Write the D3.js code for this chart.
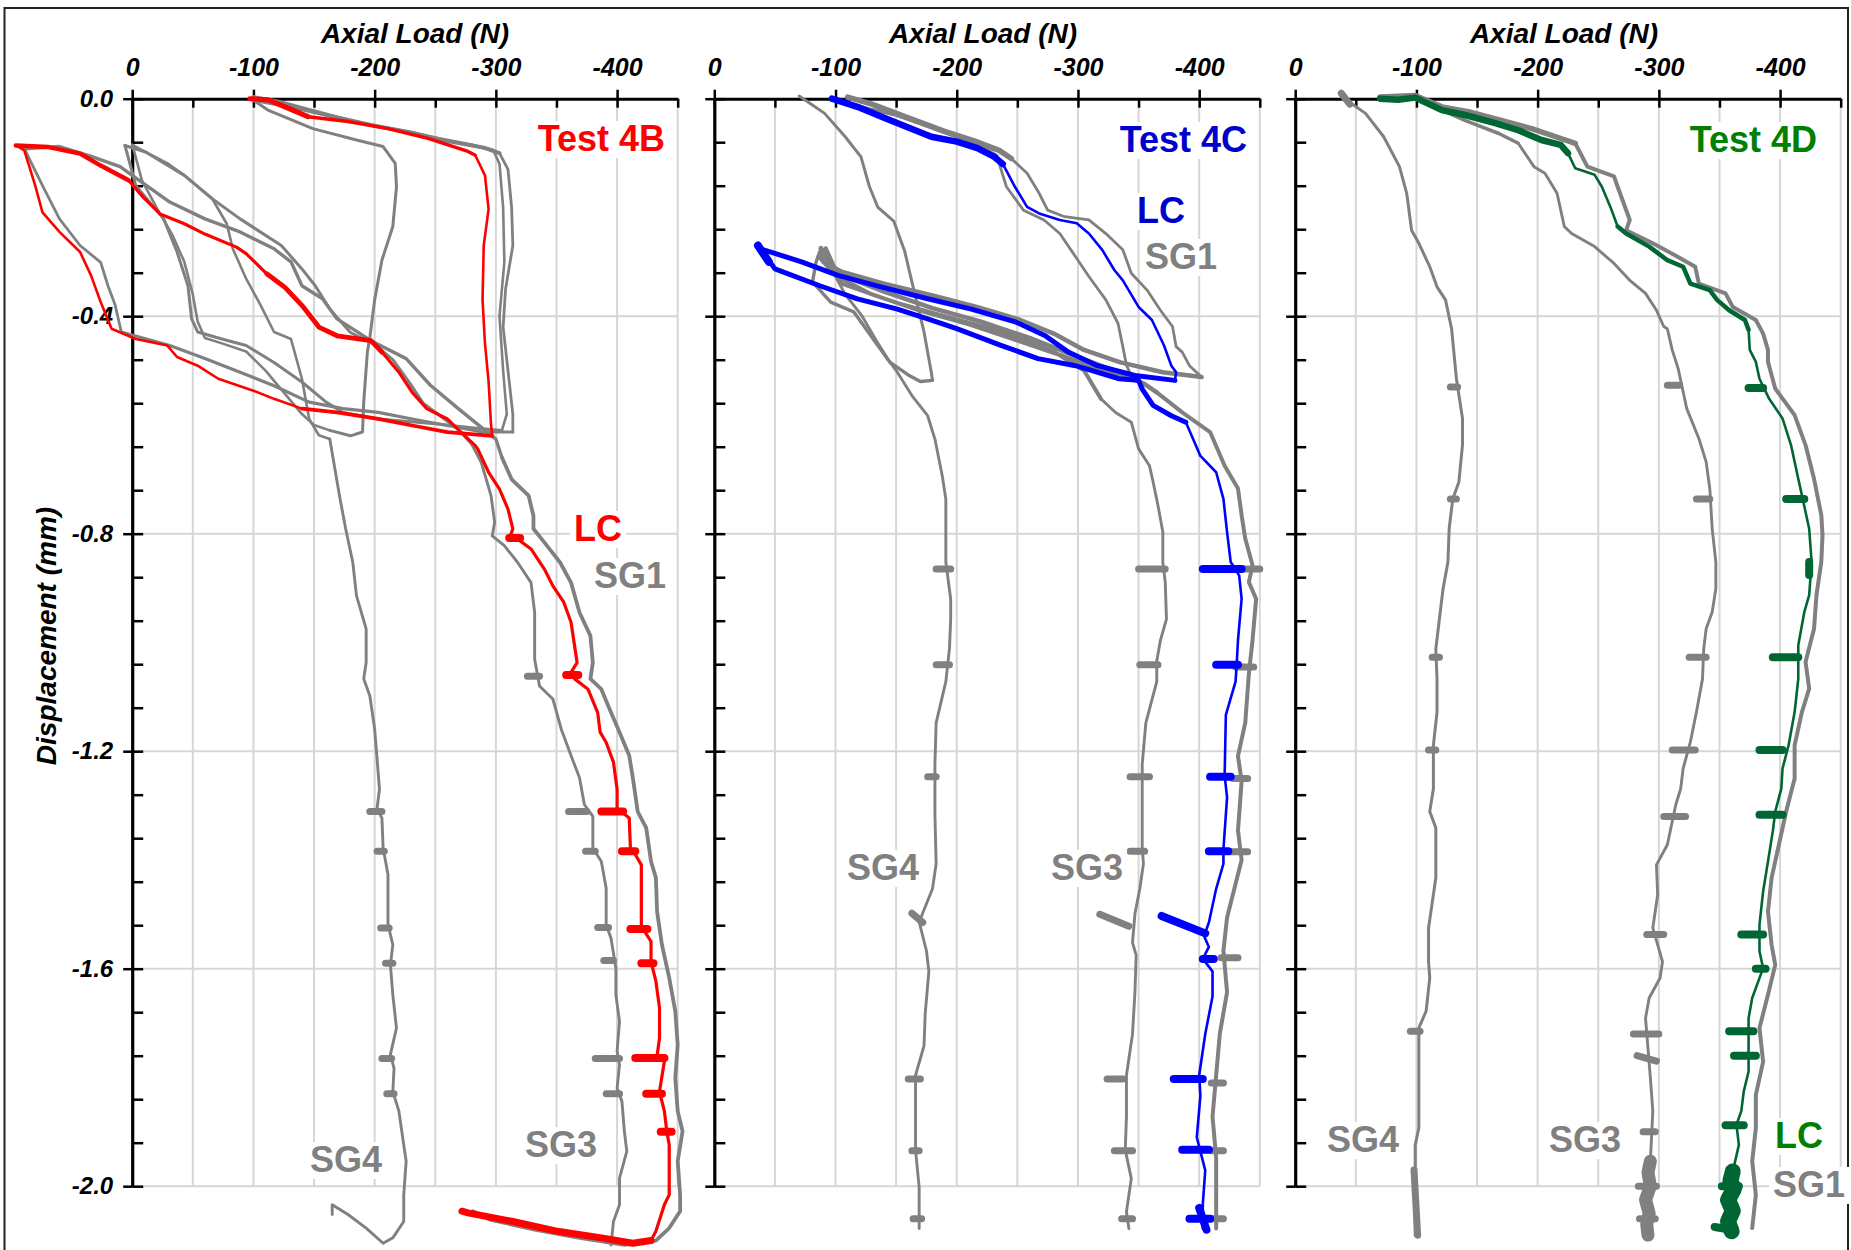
<!DOCTYPE html>
<html><head><meta charset="utf-8">
<script src="https://cdn.jsdelivr.net/npm/d3@7"></script>
<style>
body{margin:0;background:#fff;}
svg{display:block;font-family:"Liberation Sans",Arial,sans-serif;}
</style></head><body>
<svg id="chart" width="1851" height="1250"></svg>
<script>
// ---------------- DATA (Axial load N, Displacement mm) ----------------
const loadTicks = [0,-50,-100,-150,-200,-250,-300,-350,-400,-450];
const loadLabels = [0,-100,-200,-300,-400];
const dispTicks = d3.range(26).map(i => -(i*8)/100);
const dispLabels = [0,-0.4,-0.8,-1.2,-1.6,-2.0];
const panelTests = ["Test 4B","Test 4C","Test 4D"];
const seriesNames = ["LC","SG1","SG3","SG4"];

// ---- Test 4B ----
const p1_LC = [
 [[-97,0],[-112,-0.002],[-126,-0.015],[-145,-0.033]],
 [[-145,-0.033],[-178,-0.042],[-211,-0.055],[-244,-0.073],[-277,-0.097],[-283,-0.104]],
 [[-283,-0.104],[-291,-0.141],[-294,-0.203],[-290,-0.27],[-289,-0.37],[-291,-0.45],[-294,-0.52],[-296,-0.6],[-297,-0.62]],
 [[-297,-0.62],[-260,-0.613],[-231,-0.601],[-203,-0.589],[-169,-0.577],[-140,-0.57]],
 [[-140,-0.57],[-117,-0.552],[-100,-0.537],[-71,-0.515],[-54,-0.491],[-37,-0.475],[-29,-0.454],[-3,-0.442],[17,-0.423],[26,-0.374],[34,-0.325],[43,-0.282],[60,-0.245],[74,-0.209],[80,-0.16],[89,-0.095],[96,-0.086]],
 [[96,-0.086],[69,-0.089],[43,-0.101],[26,-0.123],[3,-0.15]],
 [[3,-0.15],[-9,-0.181],[-23,-0.212],[-43,-0.23],[-60,-0.249],[-86,-0.273],[-94,-0.285],[-111,-0.322]],
 [[-111,-0.322],[-126,-0.347],[-140,-0.38],[-154,-0.42],[-169,-0.436],[-197,-0.445],[-206,-0.466]],
 [[-206,-0.466],[-220,-0.503],[-231,-0.54],[-243,-0.57],[-260,-0.589],[-271,-0.613],[-283,-0.638],[-285,-0.644],[-294,-0.687],[-303,-0.718],[-310,-0.755],[-314,-0.791],[-312,-0.804],[-318,-0.81],[-329,-0.828],[-340,-0.865],[-347,-0.896],[-356,-0.926],[-362,-0.963],[-367,-1.037],[-362,-1.055],[-365,-1.067],[-376,-1.086],[-384,-1.129],[-386,-1.165],[-391,-1.184],[-397,-1.22],[-400,-1.27],[-400,-1.305],[-410,-1.323],[-411,-1.378],[-415,-1.39],[-420,-1.409],[-420,-1.522],[-428,-1.55],[-428,-1.587],[-432,-1.623],[-435,-1.672],[-435,-1.728],[-433,-1.76],[-439,-1.77],[-435,-1.826],[-439,-1.862],[-441,-1.899],[-443,-1.924],[-443,-2.016],[-439,-2.034],[-432,-2.083],[-428,-2.1]],
 [[-428,-2.1],[-413,-2.105],[-387,-2.095],[-351,-2.083],[-314,-2.065],[-277,-2.049],[-272,-2.046]]
];
const p1_LC_holds = [[[-387,-1.311],[-405,-1.311]],[[-404,-1.384],[-415,-1.384]],[[-411,-1.527],[-425,-1.527]],[[-420,-1.59],[-430,-1.59]],[[-415,-1.764],[-439,-1.764]],[[-424,-1.83],[-437,-1.83]],[[-436,-1.9],[-445,-1.9]],[[-358,-1.06],[-368,-1.06]],[[-311,-0.808],[-320,-0.808]]];
const p1_SG1 = [
 [[-100,0.003],[-120,-0.005],[-145,-0.02],[-170,-0.035],[-200,-0.05],[-230,-0.062],[-260,-0.078],[-290,-0.09],[-303,-0.1]],
 [[-303,-0.1],[-310,-0.13],[-313,-0.2],[-314,-0.27],[-308,-0.35],[-306,-0.42],[-310,-0.5],[-314,-0.58],[-314,-0.613]],
 [[-314,-0.613],[-289,-0.613],[-260,-0.601],[-231,-0.589],[-203,-0.577],[-174,-0.57],[-146,-0.558],[-117,-0.528],[-89,-0.503],[-60,-0.478],[-31,-0.454],[9,-0.429]],
 [[9,-0.429],[14,-0.38],[20,-0.344],[26,-0.301],[43,-0.27],[60,-0.221],[74,-0.16],[89,-0.092]],
 [[89,-0.092],[60,-0.088],[35,-0.105],[10,-0.125],[0,-0.141],[-31,-0.19],[-60,-0.221],[-89,-0.245],[-117,-0.276],[-131,-0.3],[-140,-0.344],[-157,-0.368],[-169,-0.405],[-197,-0.445],[-226,-0.478],[-246,-0.527],[-269,-0.57],[-300,-0.626],[-305,-0.66]],
 [[-305,-0.66],[-313,-0.7],[-327,-0.73],[-331,-0.767],[-331,-0.791],[-340,-0.816],[-353,-0.853],[-362,-0.89],[-369,-0.945],[-378,-0.988],[-380,-1.037],[-378,-1.067],[-387,-1.086],[-395,-1.129],[-402,-1.165],[-410,-1.208],[-413,-1.249],[-417,-1.311],[-424,-1.341],[-428,-1.403],[-432,-1.433],[-433,-1.495],[-437,-1.556],[-443,-1.617],[-448,-1.678],[-450,-1.74],[-448,-1.801],[-450,-1.862],[-454,-1.899],[-450,-1.954],[-452,-2.016],[-452,-2.046],[-443,-2.077],[-432,-2.1],[-406,-2.108],[-369,-2.095],[-332,-2.08],[-296,-2.062],[-281,-2.046]]
];
const p1_SG1_holds = [];
const p1_SG3 = [
 [[-105,-0.005],[-130,-0.015],[-160,-0.03],[-190,-0.045],[-220,-0.058],[-250,-0.072],[-280,-0.085],[-298,-0.095]],
 [[-298,-0.095],[-303,-0.12],[-306,-0.2],[-307,-0.3],[-303,-0.4],[-306,-0.5],[-309,-0.58],[-305,-0.61]],
 [[-305,-0.61],[-280,-0.605],[-250,-0.598],[-203,-0.589],[-174,-0.577],[-160,-0.558],[-140,-0.521],[-117,-0.485],[-94,-0.454],[-74,-0.442],[-54,-0.429],[-49,-0.405],[-46,-0.344],[-37,-0.282],[-26,-0.221],[-3,-0.16],[6,-0.086]],
 [[6,-0.086],[-11,-0.098],[-43,-0.141],[-66,-0.184],[-89,-0.221],[-123,-0.27],[-140,-0.313],[-151,-0.344],[-163,-0.387],[-180,-0.43],[-200,-0.452],[-215,-0.48],[-228,-0.52],[-240,-0.56],[-255,-0.585],[-270,-0.61],[-280,-0.635]],
 [[-280,-0.635],[-288,-0.669],[-296,-0.73],[-299,-0.779],[-297,-0.804],[-307,-0.822],[-318,-0.853],[-329,-0.89],[-332,-0.945],[-332,-1.031],[-336,-1.08],[-347,-1.104],[-354,-1.16],[-362,-1.208],[-369,-1.249],[-373,-1.298],[-380,-1.32],[-380,-1.378],[-387,-1.403],[-391,-1.452],[-391,-1.519],[-395,-1.544],[-399,-1.599],[-399,-1.648],[-402,-1.697],[-400,-1.752],[-402,-1.777],[-400,-1.82],[-404,-1.844],[-406,-1.899],[-408,-1.936],[-402,-1.985],[-402,-2.034],[-397,-2.065],[-395,-2.108]]
];
const p1_SG3_holds = [[[-360,-1.311],[-375,-1.311]],[[-374,-1.384],[-382,-1.384]],[[-384,-1.524],[-393,-1.524]],[[-389,-1.585],[-397,-1.585]],[[-382,-1.765],[-402,-1.765]],[[-391,-1.83],[-402,-1.83]],[[-326,-1.062],[-336,-1.062]]];
const p1_SG4 = [
 [[-100,-0.003],[-112,-0.021],[-149,-0.055],[-185,-0.076],[-207,-0.088],[-217,-0.119],[-218,-0.162],[-215,-0.235],[-206,-0.297],[-200,-0.37],[-196,-0.44],[-194,-0.466],[-191,-0.558],[-190,-0.613],[-180,-0.62],[-163,-0.61]],
 [[-163,-0.61],[-150,-0.6],[-140,-0.58],[-125,-0.54],[-110,-0.5],[-94,-0.465],[-74,-0.45],[-60,-0.44],[-54,-0.41],[-50,-0.36],[-43,-0.3],[-33,-0.25],[-20,-0.2],[-8,-0.15],[-2,-0.1],[0,-0.085]],
 [[0,-0.085],[-11,-0.098],[-30,-0.12],[-43,-0.141],[-66,-0.184],[-78,-0.23],[-83,-0.276],[-94,-0.331],[-106,-0.38],[-117,-0.429],[-131,-0.442],[-140,-0.515],[-146,-0.589],[-154,-0.619],[-163,-0.626]],
 [[-163,-0.626],[-171,-0.73],[-176,-0.79],[-182,-0.853],[-185,-0.914],[-193,-0.975],[-193,-1.037],[-191,-1.067],[-196,-1.098],[-200,-1.159],[-204,-1.27],[-202,-1.305],[-206,-1.323],[-207,-1.378],[-211,-1.427],[-211,-1.519],[-215,-1.556],[-213,-1.593],[-215,-1.648],[-218,-1.709],[-213,-1.758],[-216,-1.783],[-215,-1.826],[-220,-1.862],[-224,-1.924],[-226,-1.954],[-224,-2.016],[-224,-2.065],[-215,-2.095],[-207,-2.105],[-193,-2.077],[-178,-2.052],[-165,-2.034],[-165,-2.052]]
];
const p1_SG4_holds = [[[-196,-1.311],[-206,-1.311]],[[-202,-1.384],[-208,-1.384]],[[-205,-1.525],[-212,-1.525]],[[-209,-1.59],[-215,-1.59]],[[-206,-1.765],[-214,-1.765]],[[-210,-1.83],[-216,-1.83]]];

// ---- Test 4C ----
const p2_LC = [
 [[-97,0],[-118,-0.015],[-138,-0.033],[-159,-0.052],[-179,-0.07],[-200,-0.079],[-217,-0.091],[-231,-0.107],[-238,-0.12]],
 [[-238,-0.12],[-248,-0.162],[-258,-0.199],[-268,-0.211],[-285,-0.223],[-299,-0.229],[-309,-0.248],[-320,-0.278],[-330,-0.315],[-337,-0.334],[-350,-0.383],[-361,-0.407],[-371,-0.454],[-377,-0.491],[-381,-0.503],[-380,-0.518]],
 [[-380,-0.518],[-347,-0.509],[-316,-0.491],[-292,-0.466],[-273,-0.436],[-249,-0.411],[-212,-0.387],[-176,-0.368],[-139,-0.347],[-102,-0.325],[-72,-0.3],[-38,-0.276]],
 [[-38,-0.276],[-50,-0.313],[-87,-0.344],[-118,-0.368],[-151,-0.387],[-176,-0.405],[-200,-0.423],[-237,-0.454],[-267,-0.478],[-298,-0.491],[-334,-0.515],[-350,-0.518],[-353,-0.534],[-362,-0.564],[-377,-0.583],[-389,-0.595]],
 [[-389,-0.595],[-401,-0.657],[-414,-0.687],[-420,-0.736],[-423,-0.797],[-426,-0.852],[-433,-0.877],[-435,-0.92],[-432,-0.996],[-431,-1.038],[-430,-1.072],[-422,-1.133],[-421,-1.245],[-423,-1.285],[-420,-1.38],[-420,-1.407],[-414,-1.453],[-408,-1.515],[-404,-1.54],[-408,-1.56],[-403,-1.582],[-411,-1.605],[-411,-1.651],[-405,-1.72],[-400,-1.796],[-401,-1.834],[-398,-1.91],[-405,-1.971],[-403,-2.032],[-403,-2.078]]
];
const p2_LC_holds = [[[-403,-0.865],[-435,-0.865]],[[-414,-1.041],[-432,-1.041]],[[-409,-1.247],[-426,-1.247]],[[-408,-1.384],[-424,-1.384]],[[-369,-1.503],[-405,-1.535]],[[-403,-1.582],[-412,-1.582]],[[-379,-1.803],[-403,-1.803]],[[-386,-1.933],[-408,-1.933]],[[-392,-2.06],[-409,-2.06]],[[-400,-2.04],[-406,-2.08]],[[-36,-0.27],[-45,-0.3]]];
const p2_SG1 = [
 [[-110,0.003],[-130,-0.01],[-160,-0.035],[-190,-0.06],[-215,-0.078],[-235,-0.095],[-245,-0.11]],
 [[-245,-0.11],[-258,-0.137],[-268,-0.174],[-275,-0.205],[-289,-0.217],[-309,-0.223],[-323,-0.248],[-337,-0.278],[-344,-0.321],[-357,-0.352],[-368,-0.389],[-378,-0.419],[-381,-0.456],[-386,-0.466],[-392,-0.491],[-402,-0.512]],
 [[-402,-0.512],[-370,-0.503],[-335,-0.485],[-305,-0.462],[-280,-0.432],[-250,-0.405],[-215,-0.382],[-180,-0.362],[-140,-0.34],[-105,-0.318],[-90,-0.3],[-88,-0.275]],
 [[-88,-0.275],[-100,-0.32],[-140,-0.355],[-180,-0.385],[-220,-0.41],[-260,-0.44],[-300,-0.475],[-330,-0.5],[-355,-0.525],[-365,-0.54]],
 [[-365,-0.54],[-386,-0.577],[-409,-0.613],[-421,-0.675],[-432,-0.717],[-435,-0.766],[-438,-0.809],[-444,-0.858],[-441,-0.889],[-447,-0.92],[-444,-0.996],[-441,-1.057],[-438,-1.148],[-432,-1.209],[-435,-1.255],[-432,-1.346],[-435,-1.4],[-429,-1.453],[-423,-1.506],[-420,-1.567],[-423,-1.643],[-417,-1.72],[-414,-1.796],[-411,-1.872],[-414,-1.948],[-414,-2.024],[-414,-2.078]]
];
const p2_SG1_holds = [[[-435,-0.865],[-450,-0.865]],[[-430,-1.045],[-445,-1.045]],[[-428,-1.25],[-440,-1.25]],[[-425,-1.385],[-440,-1.385]],[[-418,-1.58],[-432,-1.58]],[[-410,-1.81],[-420,-1.81]],[[-410,-1.935],[-420,-1.935]],[[-405,-2.06],[-420,-2.06]]];
const p2_SG3 = [
 [[-105,-0.005],[-130,-0.02],[-150,-0.03],[-175,-0.05],[-200,-0.07],[-222,-0.09],[-233,-0.105]],
 [[-233,-0.105],[-241,-0.162],[-255,-0.205],[-272,-0.223],[-285,-0.248],[-296,-0.284],[-309,-0.327],[-323,-0.37],[-333,-0.413],[-337,-0.456],[-340,-0.49],[-345,-0.515]],
 [[-345,-0.515],[-320,-0.5],[-290,-0.475],[-250,-0.445],[-210,-0.415],[-170,-0.39],[-130,-0.36],[-100,-0.325],[-86,-0.29],[-92,-0.275],[-105,-0.34],[-150,-0.375],[-190,-0.4],[-240,-0.43],[-280,-0.465],[-305,-0.5],[-319,-0.552]],
 [[-319,-0.552],[-331,-0.577],[-344,-0.595],[-350,-0.644],[-359,-0.675],[-362,-0.705],[-366,-0.748],[-370,-0.797],[-370,-0.852],[-372,-0.889],[-373,-0.957],[-368,-0.996],[-365,-1.034],[-365,-1.072],[-356,-1.148],[-353,-1.224],[-353,-1.3],[-353,-1.377],[-354,-1.407],[-351,-1.453],[-347,-1.499],[-345,-1.552],[-348,-1.575],[-347,-1.643],[-345,-1.72],[-340,-1.796],[-340,-1.872],[-339,-1.933],[-344,-1.986],[-340,-2.047],[-342,-2.078]]
];
const p2_SG3_holds = [[[-350,-0.865],[-372,-0.865]],[[-351,-1.041],[-366,-1.041]],[[-343,-1.247],[-359,-1.247]],[[-343,-1.384],[-355,-1.384]],[[-318,-1.5],[-342,-1.522]],[[-324,-1.803],[-337,-1.803]],[[-330,-1.935],[-345,-1.935]],[[-336,-2.06],[-345,-2.06]]];
const p2_SG4 = [
 [[-70,0.005],[-80,-0.01],[-91,-0.027],[-108,-0.07],[-121,-0.107],[-128,-0.162],[-135,-0.2],[-148,-0.225],[-157,-0.28],[-163,-0.337],[-173,-0.429],[-179,-0.503],[-180,-0.518]],
 [[-180,-0.518],[-170,-0.52],[-160,-0.508],[-145,-0.485],[-133,-0.448],[-115,-0.392],[-96,-0.374],[-81,-0.337],[-84,-0.3],[-88,-0.275]],
 [[-88,-0.275],[-96,-0.31],[-108,-0.36],[-122,-0.4],[-135,-0.45],[-145,-0.485],[-151,-0.503],[-163,-0.546],[-176,-0.583],[-182,-0.626],[-188,-0.693],[-191,-0.736],[-191,-0.797],[-191,-0.852],[-195,-0.92],[-195,-0.957],[-194,-1.011],[-191,-1.072],[-183,-1.148],[-182,-1.224],[-182,-1.316],[-183,-1.407],[-180,-1.453],[-169,-1.514],[-175,-1.567],[-177,-1.605],[-174,-1.682],[-173,-1.742],[-166,-1.796],[-166,-1.872],[-166,-1.933],[-169,-2.002],[-169,-2.078]]
];
const p2_SG4_holds = [[[-183,-0.865],[-195,-0.865]],[[-183,-1.041],[-194,-1.041]],[[-176,-1.247],[-183,-1.247]],[[-163,-1.498],[-172,-1.515]],[[-160,-1.803],[-170,-1.803]],[[-163,-1.935],[-169,-1.935]],[[-164,-2.06],[-171,-2.06]]];

// ---- Test 4D ----
const p3_LC = [
 [[-70,0],[-85,-0.002],[-99,0.002],[-121,-0.021],[-140,-0.03],[-165,-0.045],[-184,-0.058],[-203,-0.076],[-219,-0.085],[-225,-0.1]],
 [[-225,-0.1],[-231,-0.128],[-247,-0.14],[-253,-0.162],[-260,-0.199],[-266,-0.235]],
 [[-266,-0.235],[-273,-0.248],[-292,-0.272],[-307,-0.297],[-320,-0.309],[-326,-0.34],[-342,-0.352],[-348,-0.37],[-358,-0.389],[-371,-0.407],[-374,-0.425]],
 [[-374,-0.425],[-375,-0.462],[-380,-0.484],[-383,-0.515],[-391,-0.552],[-402,-0.588],[-409,-0.637],[-415,-0.699],[-418,-0.729],[-424,-0.791],[-426,-0.852],[-424,-0.913],[-420,-0.944],[-415,-1.005],[-415,-1.067],[-412,-1.128],[-407,-1.189],[-402,-1.232],[-401,-1.269],[-396,-1.311],[-394,-1.347],[-390,-1.403],[-386,-1.458],[-383,-1.519],[-383,-1.568],[-386,-1.599],[-377,-1.654],[-374,-1.691],[-374,-1.789],[-370,-1.826],[-368,-1.862],[-364,-1.887],[-366,-1.924],[-361,-1.973]],
 [[-361,-1.973],[-359,-1.99],[-362,-2.005],[-357,-2.025],[-361,-2.045],[-357,-2.065],[-360,-2.083]]
];
const p3_LC_holds = [[[-374,-0.532],[-386,-0.532]],[[-405,-0.736],[-420,-0.736]],[[-424,-0.852],[-424,-0.876]],[[-394,-1.027],[-415,-1.027]],[[-383,-1.198],[-402,-1.198]],[[-383,-1.317],[-402,-1.317]],[[-368,-1.537],[-386,-1.537]],[[-380,-1.6],[-388,-1.6]],[[-358,-1.715],[-378,-1.715]],[[-362,-1.76],[-380,-1.76]],[[-355,-1.888],[-370,-1.888]],[[-346,-2.075],[-360,-2.08]],[[-352,-2.0],[-366,-2.0]]];
const p3_SG1 = [
 [[-70,0.003],[-99,0.006],[-121,-0.015],[-145,-0.025],[-170,-0.04],[-195,-0.055],[-215,-0.07],[-231,-0.082]],
 [[-231,-0.082],[-241,-0.125],[-263,-0.143],[-266,-0.162],[-276,-0.223],[-273,-0.242],[-295,-0.266],[-311,-0.285],[-330,-0.309],[-333,-0.34],[-355,-0.358],[-361,-0.383],[-380,-0.407],[-386,-0.432],[-390,-0.462],[-390,-0.484],[-396,-0.533],[-412,-0.582],[-421,-0.637],[-428,-0.699],[-434,-0.766],[-435,-0.803],[-434,-0.852],[-430,-0.913],[-428,-0.975],[-421,-1.036],[-424,-1.085],[-418,-1.128],[-412,-1.189],[-412,-1.25],[-405,-1.311],[-399,-1.372],[-393,-1.433],[-390,-1.495],[-393,-1.556],[-396,-1.593],[-390,-1.648],[-383,-1.709],[-386,-1.771],[-380,-1.832],[-380,-1.893],[-377,-1.954],[-380,-2.016],[-377,-2.077]]
];
const p3_SG1_holds = [];
const p3_SG3 = [
 [[-99,0.003],[-120,-0.02],[-140,-0.04],[-168,-0.064],[-184,-0.082]],
 [[-184,-0.082],[-197,-0.125],[-206,-0.137],[-216,-0.174],[-222,-0.235],[-228,-0.248],[-247,-0.272],[-263,-0.303],[-276,-0.334],[-289,-0.358],[-298,-0.389],[-304,-0.419],[-307,-0.423],[-311,-0.462],[-316,-0.497],[-323,-0.57],[-333,-0.625],[-339,-0.668],[-342,-0.717],[-344,-0.791],[-347,-0.852],[-347,-0.901],[-344,-0.944],[-339,-0.975],[-337,-1.012],[-336,-1.067],[-331,-1.128],[-326,-1.183],[-320,-1.232],[-318,-1.269],[-314,-1.298],[-307,-1.372],[-298,-1.409],[-299,-1.464],[-295,-1.525],[-303,-1.587],[-301,-1.617],[-292,-1.654],[-289,-1.691],[-293,-1.801],[-295,-1.862],[-293,-1.954]],
 [[-293,-1.954],[-291,-1.975],[-293,-2.0],[-289,-2.025],[-292,-2.05],[-290,-2.07],[-291,-2.09]]
];
const p3_SG3_holds = [[[-307,-0.527],[-317,-0.527]],[[-331,-0.736],[-342,-0.736]],[[-325,-1.027],[-339,-1.027]],[[-311,-1.198],[-330,-1.198]],[[-304,-1.32],[-322,-1.32]],[[-290,-1.537],[-304,-1.537]],[[-279,-1.72],[-300,-1.72]],[[-282,-1.76],[-298,-1.77]],[[-287,-1.9],[-297,-1.9]],[[-283,-2.0],[-298,-2.0]],[[-284,-2.06],[-297,-2.06]]];
const p3_SG4 = [
 [[-39,0.01],[-42,-0.002],[-58,-0.027],[-73,-0.07],[-86,-0.125],[-92,-0.174],[-96,-0.242],[-102,-0.266],[-111,-0.309],[-117,-0.346],[-124,-0.37],[-129,-0.423],[-133,-0.515],[-138,-0.588],[-138,-0.637],[-135,-0.705],[-130,-0.736],[-127,-0.791],[-126,-0.852],[-122,-0.901],[-119,-0.956],[-116,-1.012],[-117,-1.067],[-117,-1.128],[-114,-1.189],[-114,-1.269],[-111,-1.311],[-116,-1.341],[-116,-1.433],[-110,-1.525],[-110,-1.587],[-111,-1.617],[-108,-1.678],[-102,-1.709],[-102,-1.801],[-102,-1.893],[-99,-1.924],[-99,-1.985],[-99,-2.09]]
];
const p3_SG4_holds = [[[-128,-0.53],[-134,-0.53]],[[-128,-0.736],[-133,-0.736]],[[-113,-1.027],[-119,-1.027]],[[-110,-1.198],[-116,-1.198]],[[-95,-1.715],[-103,-1.715]],[[-98,-1.97],[-101,-2.09]],[[-38,0.01],[-45,-0.01]]];

// ---------------- STYLE / LAYOUT ----------------
const W = 1851, H = 1250;
const PANEL_X0 = [132.2, 714.3, 1295.2];
const PLOT_W = 545.5, Y_TOP = 98.7, Y_BOT = 1186.2;
const FONT = '"Liberation Sans", Arial, Helvetica, sans-serif';
const GRAY = "#808080";
const lcLine = ["#ff0000", "#0000ff", "#006633"];
const lcText = ["#ff0000", "#0000cc", "#008000"];
const titleCenter = [415, 983, 1564];

const widths = {
  p1_LC:[5,3.5,2.6,3.8,2.6,4.5,3.2,4.8,3.2,7], p1_SG1:[4,2.8,3.2,2.8,3.4,3.8], p1_SG3:[3.4,2.6,3,3,2.9], p1_SG4:[3,2.6,2.6,2.9],
  p2_LC:[6.5,2.6,5,5,2.6], p2_SG1:[5.5,2.8,4.5,4.5,4], p2_SG3:[3.5,2.8,4,2.9], p2_SG4:[3,3.4,2.9],
  p3_LC:[6.5,2.6,4.5,2.6,16], p3_SG1:[5.5,4], p3_SG3:[3.5,2.9,13], p3_SG4:[3]
};
const panels = [
  {LC:p1_LC, LCh:p1_LC_holds, SG:[[p1_SG1,p1_SG1_holds,"p1_SG1"],[p1_SG3,p1_SG3_holds,"p1_SG3"],[p1_SG4,p1_SG4_holds,"p1_SG4"]], key:"p1_LC"},
  {LC:p2_LC, LCh:p2_LC_holds, SG:[[p2_SG1,p2_SG1_holds,"p2_SG1"],[p2_SG3,p2_SG3_holds,"p2_SG3"],[p2_SG4,p2_SG4_holds,"p2_SG4"]], key:"p2_LC"},
  {LC:p3_LC, LCh:p3_LC_holds, SG:[[p3_SG1,p3_SG1_holds,"p3_SG1"],[p3_SG3,p3_SG3_holds,"p3_SG3"],[p3_SG4,p3_SG4_holds,"p3_SG4"]], key:"p3_LC"}
];
// annotation placements [text, x, baseline y, anchor, colorType]
const annotations = [
  [["Test 4B",665,151,"end","lc"],["LC",574,541,"start","lc"],["SG1",594,588,"start","g"],["SG4",310,1172,"start","g"],["SG3",525,1157,"start","g"]],
  [["Test 4C",1247,152,"end","lc"],["LC",1137,223,"start","lc"],["SG1",1145,269,"start","g"],["SG4",847,880,"start","g"],["SG3",1051,880,"start","g"]],
  [["Test 4D",1817,152,"end","lc"],["LC",1775,1148,"start","lc"],["SG1",1773,1197,"start","g"],["SG4",1327,1152,"start","g"],["SG3",1549,1152,"start","g"]]
];

const svg = d3.select("#chart").attr("font-family", FONT);
svg.append("rect").attr("width",W).attr("height",H).attr("fill","#fff");
svg.append("rect").attr("x",4.5).attr("y",8).attr("width",1843.5).attr("height",1260)
   .attr("fill","none").attr("stroke","#222").attr("stroke-width",2);

const isMajorD = d => dispLabels.some(v => Math.abs(v-d) < 1e-9);

panels.forEach((p, pi) => {
  const x0 = PANEL_X0[pi];
  const x = d3.scaleLinear().domain([0,-450]).range([x0, x0+PLOT_W]);
  const y = d3.scaleLinear().domain([0,-2]).range([Y_TOP, Y_BOT]);
  const g = svg.append("g");

  // grid
  g.append("g").selectAll("line").data(loadTicks.filter(d=>d!==0)).join("line")
    .attr("x1",d=>x(d)).attr("x2",d=>x(d)).attr("y1",Y_TOP).attr("y2",Y_BOT)
    .attr("stroke","#d6d6d6").attr("stroke-width",2);
  g.append("g").selectAll("line").data(dispLabels.filter(d=>d!==0)).join("line")
    .attr("x1",x0).attr("x2",x0+PLOT_W).attr("y1",d=>y(d)).attr("y2",d=>y(d))
    .attr("stroke","#d6d6d6").attr("stroke-width",2);

  // axes
  const gx = g.append("g").attr("transform",`translate(0,${Y_TOP})`)
    .call(d3.axisTop(x).tickValues(loadTicks).tickSizeInner(-9).tickSizeOuter(0).tickPadding(23)
      .tickFormat(d => loadLabels.includes(d) ? String(d) : ""));
  gx.select(".domain").attr("stroke","#000").attr("stroke-width",3);
  gx.selectAll(".tick line").attr("stroke","#000").attr("stroke-width",2.5);
  gx.selectAll(".tick").filter(d=>loadLabels.includes(d)).append("line")
    .attr("y1",-9).attr("y2",0).attr("stroke","#000").attr("stroke-width",2.5);
  gx.selectAll("text").attr("font-family",FONT).attr("font-size",25).attr("font-weight","bold")
    .attr("font-style","italic").attr("fill","#000");

  const gy = g.append("g").attr("transform",`translate(${x0},0)`)
    .call(d3.axisLeft(y).tickValues(dispTicks).tickSizeInner(-11).tickSizeOuter(0).tickPadding(19)
      .tickFormat(d => (pi===0 && isMajorD(d)) ? (d===0 ? "0.0" : d.toFixed(1)) : ""));
  gy.select(".domain").attr("stroke","#000").attr("stroke-width",3.2);
  gy.selectAll(".tick line").attr("stroke","#000").attr("stroke-width",2.5);
  gy.selectAll(".tick").filter(d=>isMajorD(d)).append("line")
    .attr("x1",-9).attr("x2",0).attr("stroke","#000").attr("stroke-width",2.5);
  gy.selectAll("text").attr("font-family",FONT).attr("font-size",24).attr("font-weight","bold")
    .attr("font-style","italic").attr("fill","#000");

  // title
  g.append("text").attr("x",titleCenter[pi]).attr("y",43).attr("text-anchor","middle")
    .attr("font-size",28).attr("font-weight","bold").attr("font-style","italic").text("Axial Load (N)");

  const line = d3.line().x(d=>x(d[0])).y(d=>y(d[1]));
  const drawSeries = (runs, holds, key, color, holdW) => {
    const s = g.append("g");
    s.selectAll("path").data(runs).join("path").attr("d",line).attr("fill","none")
      .attr("stroke",color).attr("stroke-width",(d,i)=>widths[key][i])
      .attr("stroke-linejoin","round").attr("stroke-linecap","round");
    s.selectAll("line").data(holds).join("line")
      .attr("x1",d=>x(d[0][0])).attr("y1",d=>y(d[0][1])).attr("x2",d=>x(d[1][0])).attr("y2",d=>y(d[1][1]))
      .attr("stroke",color).attr("stroke-width",holdW).attr("stroke-linecap","round");
  };
  p.SG.forEach(([runs, holds, key]) => drawSeries(runs, holds, key, GRAY, 7));
  drawSeries(p.LC, p.LCh, p.key, lcLine[pi], 8);

  // annotations with white boxes
  annotations[pi].forEach(([t, ax, ay, anchor, ct]) => {
    const tg = g.append("g");
    const txt = tg.append("text").attr("x",ax).attr("y",ay).attr("text-anchor",anchor)
      .attr("font-size",36).attr("font-weight","bold")
      .attr("fill", ct==="lc" ? lcText[pi] : GRAY).text(t);
    const bb = txt.node().getBBox();
    tg.insert("rect","text").attr("x",bb.x-4).attr("y",bb.y+3).attr("width",bb.width+8).attr("height",bb.height-4)
      .attr("fill","#fff");
  });
});

// y-axis title
svg.append("text").attr("transform","translate(46,636) rotate(-90)").attr("text-anchor","middle")
  .attr("dy","0.35em").attr("font-size",28).attr("font-weight","bold").attr("font-style","italic")
  .text("Displacement (mm)");
</script>
</body></html>
